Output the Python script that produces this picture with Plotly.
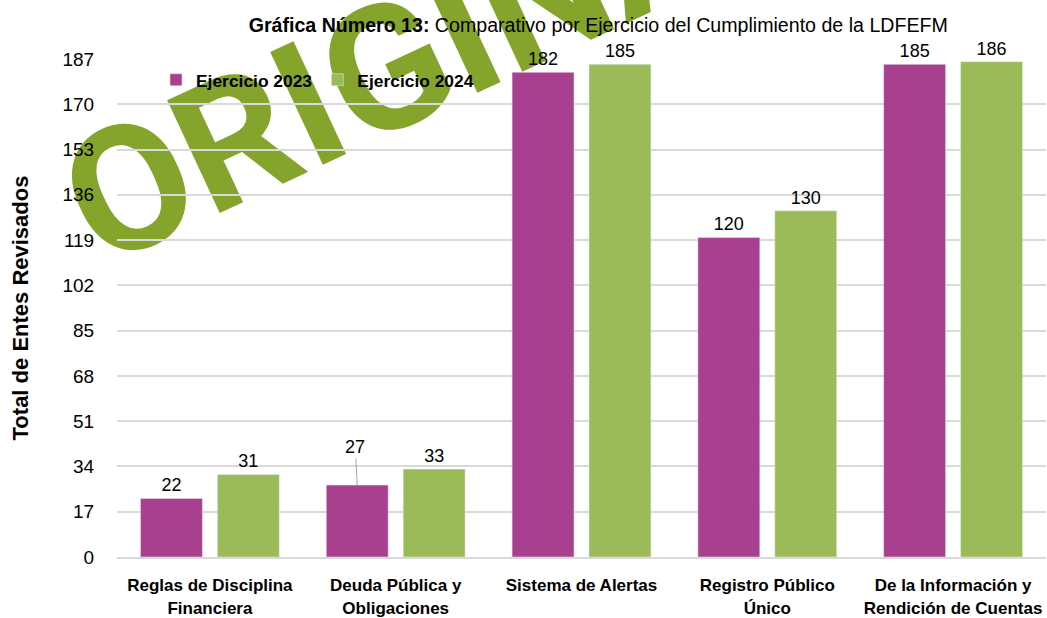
import plotly.graph_objects as go

# Categories and values
categorias = [
    "<b>Reglas de Disciplina<br>Financiera</b>",
    "<b>Deuda Pública y<br>Obligaciones</b>",
    "<b>Sistema de Alertas</b>",
    "<b>Registro Público<br>Único</b>",
    "<b>De la Información y<br>Rendición de Cuentas</b>",
]
ejercicio_2023 = [22, 27, 182, 120, 185]
ejercicio_2024 = [31, 33, 185, 130, 186]
y_ticks = list(range(0, 188, 17))

FONT = "Liberation Sans, Arial, sans-serif"
MARK_FONT = "Roboto, Liberation Sans, sans-serif"
MORADO = "#A8408F"
VERDE = "#9BBB59"
MARCA = "#84A42C"

# the 27 label sits higher with a leader line, drawn as an annotation below
texto_2023 = [str(v) if i != 1 else "" for i, v in enumerate(ejercicio_2023)]

fig = go.Figure()
fig.add_trace(go.Bar(
    name="<b>Ejercicio 2023</b>",
    x=categorias,
    y=ejercicio_2023,
    marker_color=MORADO,
    text=texto_2023,
    textposition="outside",
    cliponaxis=False,
    textfont=dict(size=18, color="#000000", family=FONT),
))
fig.add_trace(go.Bar(
    name="<b>Ejercicio 2024</b>",
    x=categorias,
    y=ejercicio_2024,
    marker_color=VERDE,
    text=[str(v) for v in ejercicio_2024],
    textposition="outside",
    cliponaxis=False,
    textfont=dict(size=18, color="#000000", family=FONT),
))

# watermark (index 0, moved under the plot layers by the post script)
fig.add_annotation(
    text="<b>ORIGINAL</b>",
    xref="paper", yref="paper",
    x=0.341, y=1.024,
    xanchor="center", yanchor="middle",
    showarrow=False,
    textangle=-25,
    font=dict(size=175, color=MARCA, family=MARK_FONT, weight=900),
)

# data label with leader line
fig.add_annotation(
    x=categorias[1], y=ejercicio_2023[1],
    xshift=-38.5,
    text=str(ejercicio_2023[1]),
    showarrow=True,
    arrowhead=0,
    arrowwidth=1,
    arrowcolor="#A6A6A6",
    ax=-2, ay=-38,
    font=dict(size=18, color="#000000", family=FONT),
)

fig.update_layout(
    width=1047,
    height=618,
    barmode="group",
    bargap=0.172,
    bargroupgap=0.195,
    paper_bgcolor="#FFFFFF",
    plot_bgcolor="rgba(0,0,0,0)",
    margin=dict(l=117, r=1, t=59, b=61),
    font=dict(family=FONT, color="#000000"),
    title=dict(
        text="<b>Gráfica Número 13:</b> Comparativo por Ejercicio del Cumplimiento de la LDFEFM",
        xref="paper", x=0.518, xanchor="center",
        yref="container", y=1 - 25 / 618, yanchor="middle",
        font=dict(size=19.6, family=FONT, color="#000000"),
    ),
    legend=dict(
        orientation="h",
        x=0.042, y=0.958,
        xanchor="left", yanchor="middle",
        bgcolor="rgba(0,0,0,0)",
        font=dict(size=17.4, family=FONT, color="#000000"),
        itemwidth=30,
    ),
    xaxis=dict(
        automargin=False,
        showgrid=False,
        showline=True,
        linecolor="#D9D9D9",
        linewidth=2,
        tickfont=dict(size=17, family=FONT, color="#000000"),
        ticks="outside",
        ticklen=12,
        tickcolor="rgba(0,0,0,0)",
    ),
    yaxis=dict(
        automargin=False,
        range=[0, 187],
        tickvals=y_ticks,
        showgrid=True,
        gridcolor="#D9D9D9",
        gridwidth=2,
        zeroline=False,
        ticks="outside",
        ticklen=18,
        tickcolor="rgba(0,0,0,0)",
        tickfont=dict(size=19, family=FONT, color="#000000"),
        title=dict(
            text="<b>Total de Entes Revisados</b>",
            font=dict(size=22, family=FONT, color="#000000"),
            standoff=27,
        ),
    ),
)

post_js = """
document.body.style.margin = '0';
document.body.style.overflow = 'hidden';
var gd = document.getElementById('{plot_id}');
function sinkWatermark() {
  var paper = gd.querySelector('svg.main-svg');
  var layer = paper.querySelector('.cartesianlayer');
  paper.querySelectorAll('.annotation').forEach(function (n) { n.remove(); });
  var mark = gd.querySelector('.infolayer .annotation[data-index="0"]');
  if (mark) paper.insertBefore(mark, layer);
}
sinkWatermark();
gd.on('plotly_afterplot', sinkWatermark);
"""

fig.write_html("out.html", post_script=post_js, config={"displayModeBar": False})
